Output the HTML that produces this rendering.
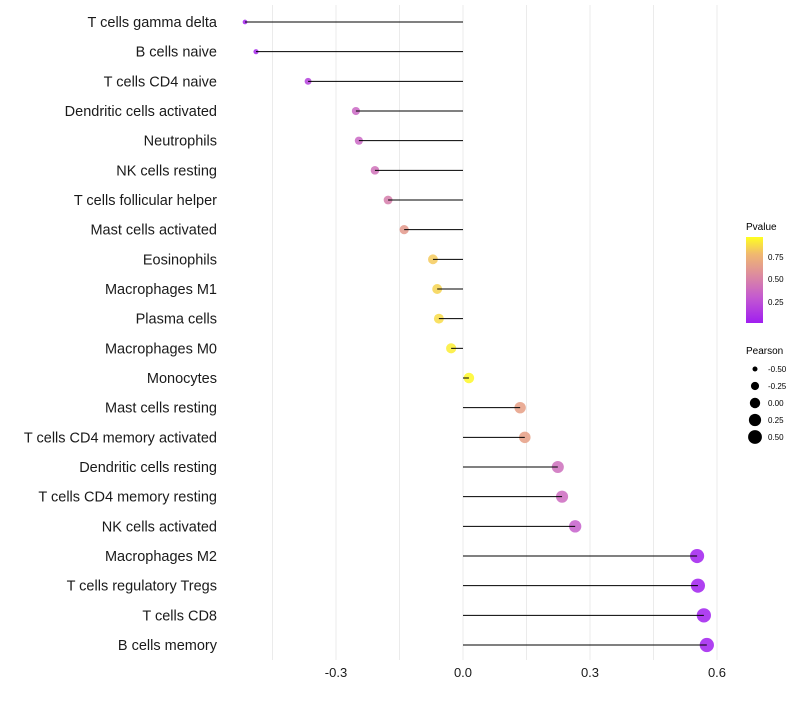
<!DOCTYPE html>
<html><head><meta charset="utf-8"><style>
body{margin:0;background:#fff;}
svg text{font-family:"Liberation Sans",sans-serif;}
</style></head><body>
<svg id="chart" width="800" height="700" xmlns="http://www.w3.org/2000/svg">
<g id="grid"></g>
<g id="dots"></g>
<g id="marks"></g>
<g id="labels"></g>
<g id="xticks"></g>
<g id="legend">
<defs><linearGradient id="pg" x1="0" y1="1" x2="0" y2="0">
<stop offset="0" stop-color="#a01ef0"/><stop offset="0.3" stop-color="#c45ad0"/><stop offset="0.55" stop-color="#dc8aa0"/><stop offset="0.8" stop-color="#f0b870"/><stop offset="1" stop-color="#ffff20"/></linearGradient></defs>
<text x="746" y="230" font-size="10">Pvalue</text>
<rect x="746" y="237" width="17" height="86" fill="url(#pg)"/>
<text x="768" y="260" font-size="8">0.75</text>
<text x="768" y="282" font-size="8">0.50</text>
<text x="768" y="305" font-size="8">0.25</text>
<text x="746" y="354" font-size="10">Pearson</text>
</g>
</svg>
<script>
const categories=["T cells gamma delta","B cells naive","T cells CD4 naive","Dendritic cells activated","Neutrophils","NK cells resting","T cells follicular helper","Mast cells activated","Eosinophils","Macrophages M1","Plasma cells","Macrophages M0","Monocytes","Mast cells resting","T cells CD4 memory activated","Dendritic cells resting","T cells CD4 memory resting","NK cells activated","Macrophages M2","T cells regulatory  Tregs ","T cells CD8","B cells memory"];
const pearson=[-0.515,-0.489,-0.366,-0.253,-0.246,-0.208,-0.177,-0.139,-0.071,-0.061,-0.057,-0.028,0.014,0.135,0.146,0.224,0.234,0.265,0.553,0.555,0.569,0.576];
const pvalues=[0.02,0.04,0.15,0.32,0.32,0.38,0.45,0.62,0.85,0.88,0.9,0.95,0.98,0.66,0.66,0.36,0.34,0.28,0.01,0.01,0.01,0.01];
const xTicks=[-0.3,0.0,0.3,0.6];
const xTickLabels=["-0.3","0.0","0.3","0.6"];
const legendValues=[-0.5,-0.25,0,0.25,0.5];
const legendLabels=["-0.50","-0.25","0.00","0.25","0.50"];

const NS="http://www.w3.org/2000/svg";
const x=v=>463+v*423.3;
const y=i=>22+i*29.667;
const r=v=>Math.sqrt(Math.max(1,27+41.5*v));
const stops=[[0,[160,30,240]],[0.3,[200,100,200]],[0.55,[222,140,150]],[0.8,[240,184,112]],[1,[255,255,32]]];
function col(p){for(let k=1;k<stops.length;k++){if(p<=stops[k][0]){const a=stops[k-1],b=stops[k];const t=(p-a[0])/(b[0]-a[0]);const c=a[1].map((v,j)=>Math.round(v+(b[1][j]-v)*t));return `rgb(${c})`;}}return 'rgb(255,255,32)';}
function mk(tag,attrs,parent){const e=document.createElementNS(NS,tag);for(const k in attrs)e.setAttribute(k,attrs[k]);parent.appendChild(e);return e;}
const grid=document.getElementById('grid'),dots=document.getElementById('dots'),marks=document.getElementById('marks'),labels=document.getElementById('labels'),xt=document.getElementById('xticks'),leg=document.getElementById('legend');
[-0.45,-0.3,-0.15,0,0.15,0.3,0.45,0.6].forEach(v=>{
  const l=mk('line',{x1:x(v),x2:x(v),y1:5,y2:660,stroke:'#ebebeb','stroke-width':1},grid);
  
  
});
categories.forEach((c,i)=>{
  const d=mk('circle',{cx:x(pearson[i]),cy:y(i),r:r(pearson[i]),fill:col(pvalues[i]),'fill-opacity':0.85},dots);
  
  
  const ln=mk('line',{x1:x(0),x2:x(pearson[i]),y1:y(i),y2:y(i),stroke:'#000','stroke-width':1},marks);
  
  
  const t=mk('text',{x:217,y:y(i)+5,'font-size':14.5,'text-anchor':'end',fill:'#1a1a1a'},labels);
  t.textContent=c;
  
  
});
xTicks.forEach((v,i)=>{
  const t=mk('text',{x:x(v),y:677,'font-size':13,'text-anchor':'middle',fill:'#1a1a1a'},xt);
  t.textContent=xTickLabels[i];
  
  
});
legendValues.forEach((v,i)=>{
  const cy=369+i*17;
  const c=mk('circle',{cx:755,cy:cy,r:r(v),fill:'#000'},leg);
  
  
  const t=mk('text',{x:768,y:cy+3,'font-size':8},leg);
  t.textContent=legendLabels[i];
  
  
});
</script>
</body></html>
